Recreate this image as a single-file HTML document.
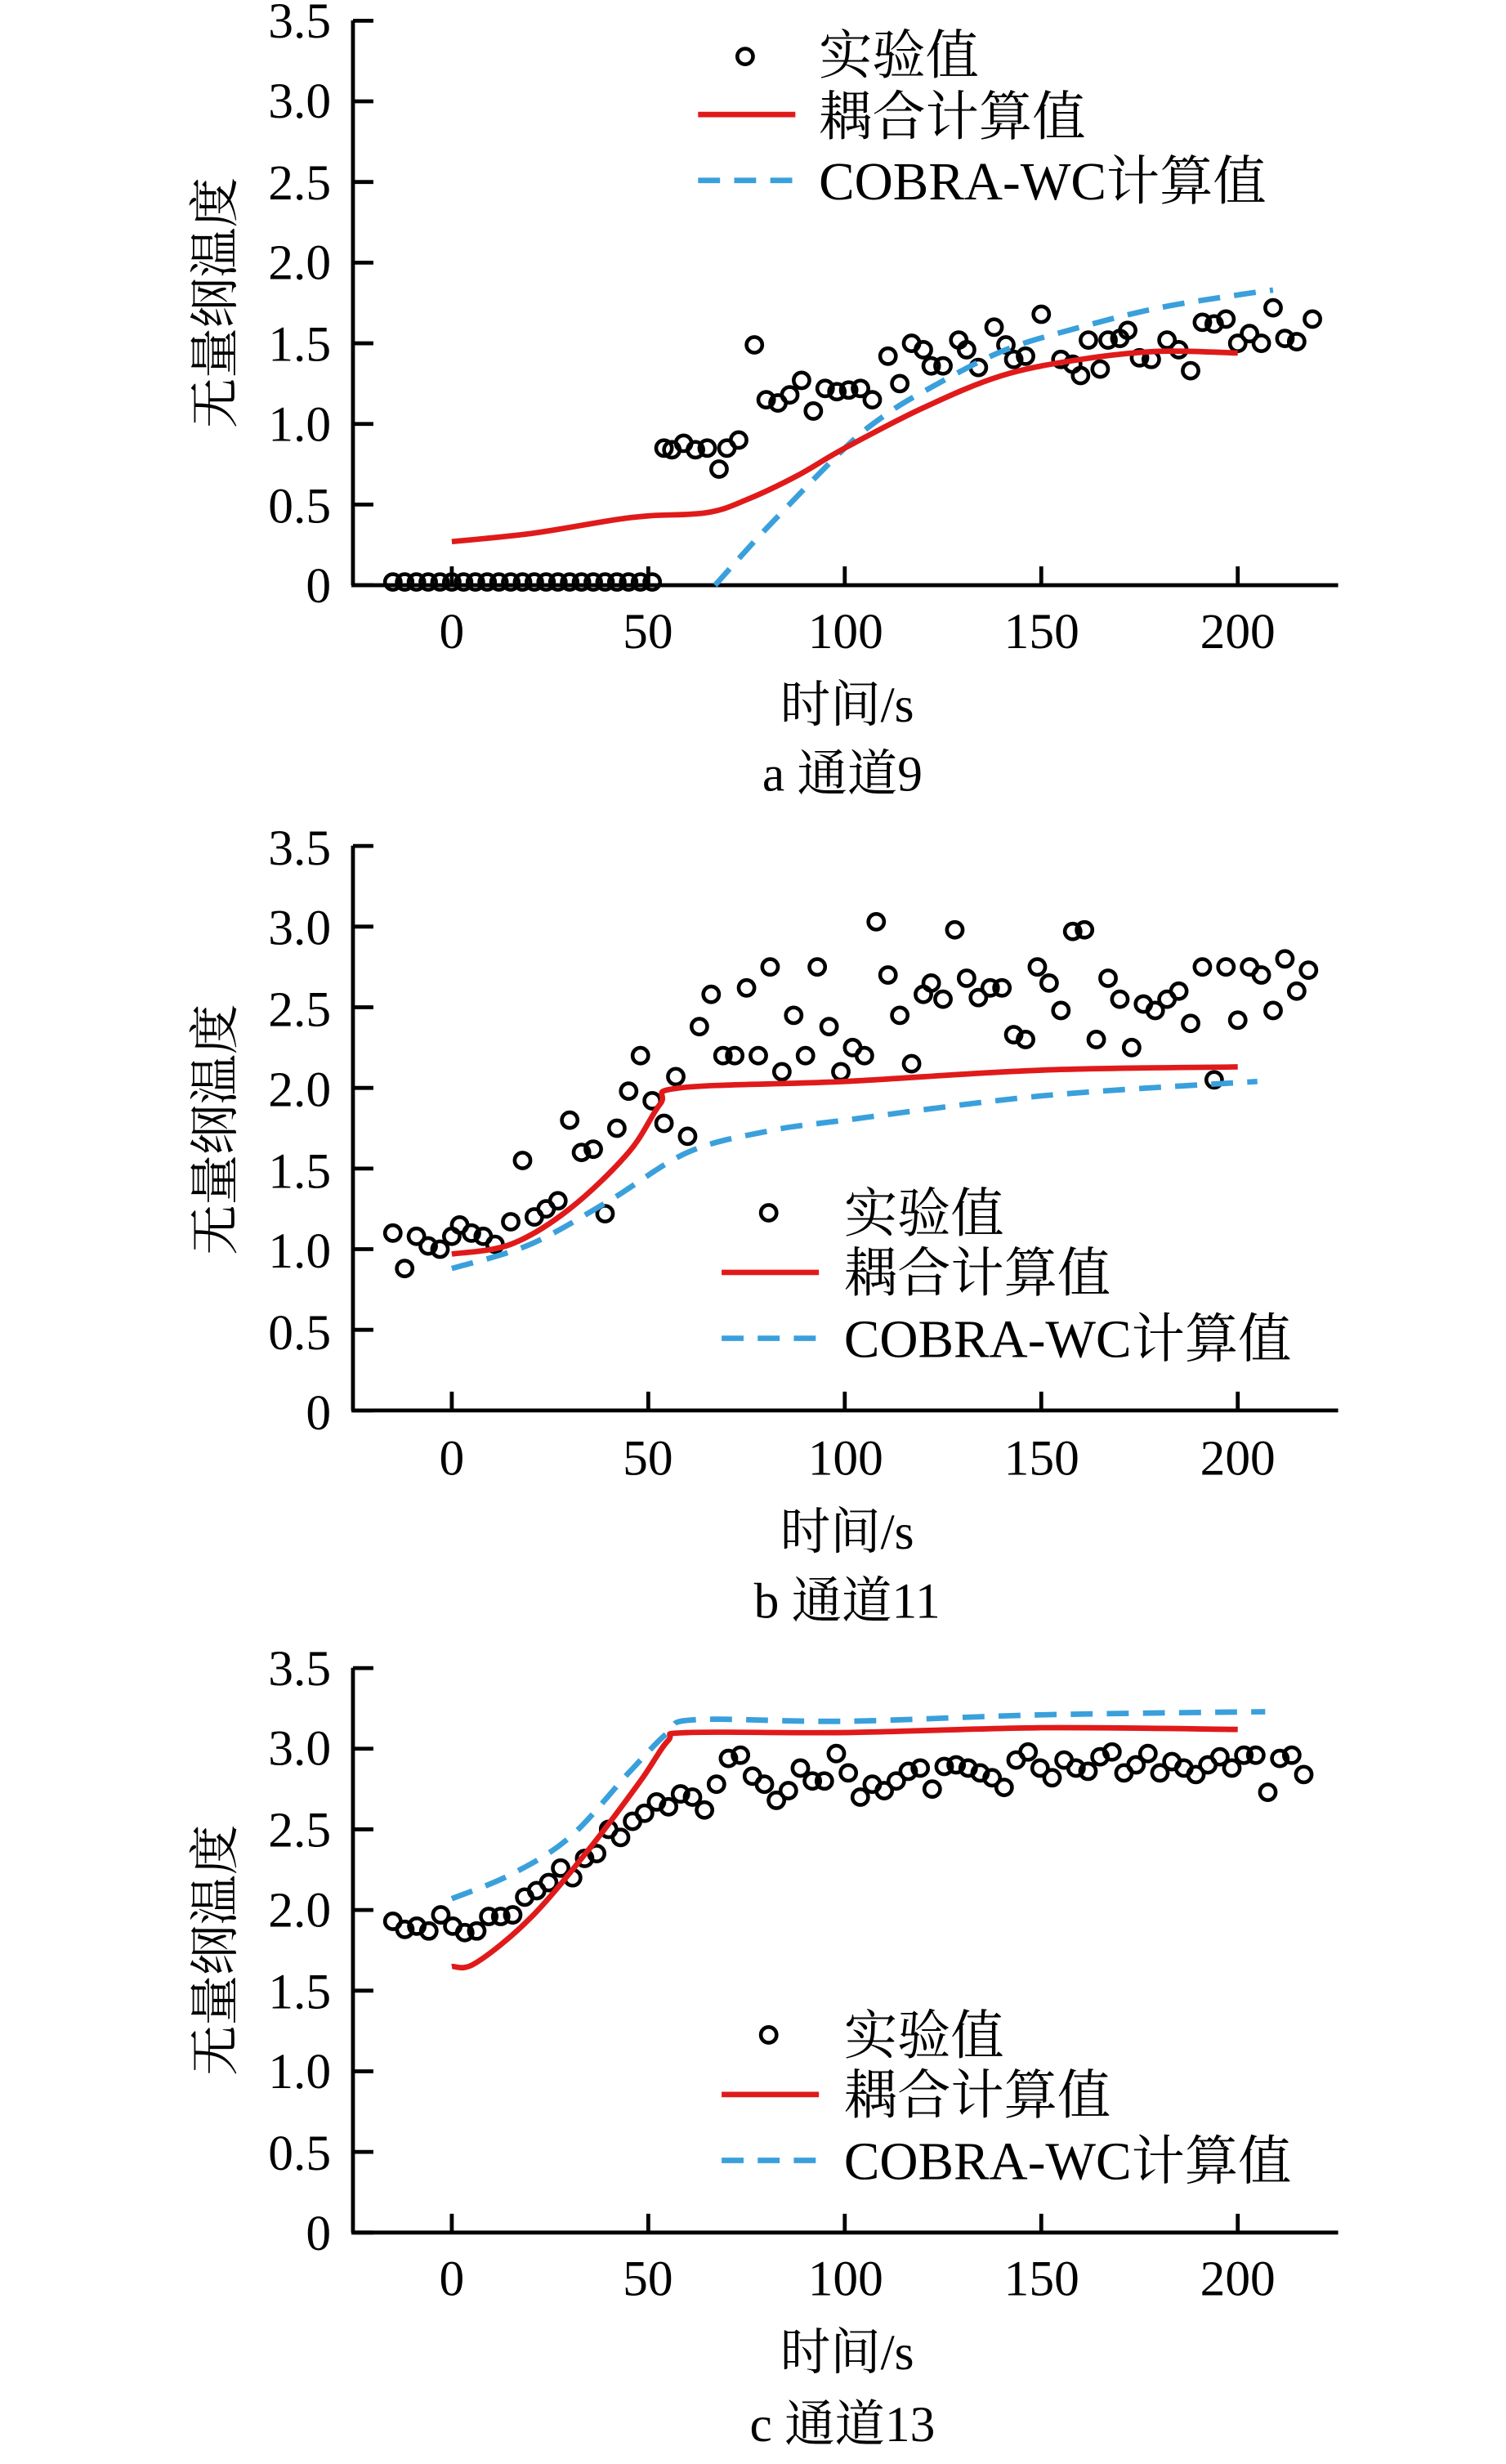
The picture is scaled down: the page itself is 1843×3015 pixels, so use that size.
<!DOCTYPE html>
<html><head><meta charset="utf-8">
<style>
html,body{margin:0;padding:0;background:#fff;}
svg{display:block;}
text{font-family:"Liberation Serif","Noto Serif CJK SC","Noto Sans CJK SC",serif;fill:#000;}
</style></head>
<body>
<svg id="s" width="1843" height="3015" viewBox="0 0 960 1570.5" preserveAspectRatio="none" xmlns="http://www.w3.org/2000/svg">
<g id="g"></g>
<!-- Panel a texts -->
<g font-size="32" text-anchor="end">
<text x="211" y="24">3.5</text><text x="211" y="75">3.0</text><text x="211" y="127">2.5</text><text x="211" y="178">2.0</text><text x="211" y="230">1.5</text><text x="211" y="281">1.0</text><text x="211" y="333">0.5</text><text x="211" y="384">0</text>
</g>
<g font-size="32" text-anchor="middle">
<text x="288" y="413">0</text><text x="413" y="413">50</text><text x="539" y="413">100</text><text x="664" y="413">150</text><text x="789" y="413">200</text>
<text x="540" y="460">时间/s</text>
<text x="537" y="504">a  通道9</text>
</g>
<text font-size="32" transform="translate(148,193) rotate(-90)" text-anchor="middle">无量纲温度</text>
<g font-size="34"><text x="522" y="47">实验值</text><text x="522" y="86">耦合计算值</text><text x="522" y="127">COBRA-WC计算值</text></g>

<!-- Panel b texts -->
<g font-size="32" text-anchor="end">
<text x="211" y="551">3.5</text><text x="211" y="602">3.0</text><text x="211" y="654">2.5</text><text x="211" y="705">2.0</text><text x="211" y="757">1.5</text><text x="211" y="808">1.0</text><text x="211" y="860">0.5</text><text x="211" y="911">0</text>
</g>
<g font-size="32" text-anchor="middle">
<text x="288" y="940">0</text><text x="413" y="940">50</text><text x="539" y="940">100</text><text x="664" y="940">150</text><text x="789" y="940">200</text>
<text x="540" y="987">时间/s</text>
<text x="540" y="1031">b  通道11</text>
</g>
<text font-size="32" transform="translate(148,720) rotate(-90)" text-anchor="middle">无量纲温度</text>
<g font-size="34"><text x="538" y="785">实验值</text><text x="538" y="823">耦合计算值</text><text x="538" y="865">COBRA-WC计算值</text></g>

<!-- Panel c texts -->
<g font-size="32" text-anchor="end">
<text x="211" y="1074">3.5</text><text x="211" y="1125">3.0</text><text x="211" y="1177">2.5</text><text x="211" y="1228">2.0</text><text x="211" y="1280">1.5</text><text x="211" y="1331">1.0</text><text x="211" y="1383">0.5</text><text x="211" y="1434">0</text>
</g>
<g font-size="32" text-anchor="middle">
<text x="288" y="1463">0</text><text x="413" y="1463">50</text><text x="539" y="1463">100</text><text x="664" y="1463">150</text><text x="789" y="1463">200</text>
<text x="540" y="1510">时间/s</text>
<text x="537" y="1556">c  通道13</text>
</g>
<text font-size="32" transform="translate(148,1243) rotate(-90)" text-anchor="middle">无量纲温度</text>
<g font-size="34"><text x="538" y="1309">实验值</text><text x="538" y="1347">耦合计算值</text><text x="538" y="1389">COBRA-WC计算值</text></g>
</svg>
<script>
var NS="http://www.w3.org/2000/svg",G=document.getElementById("g");
function el(t,a){var e=document.createElementNS(NS,t);for(var k in a)e.setAttribute(k,a[k]);G.appendChild(e);return e;}
function panel(y0,red,blue,pts,leg){
  var ytop=y0-360;
  var X=function(t){return 288+t*2.505;},Y=function(v){return y0-v*102.8;};
  el("line",{x1:225,y1:ytop,x2:225,y2:y0,stroke:"#000","stroke-width":2.5});
  el("line",{x1:224,y1:y0,x2:853,y2:y0,stroke:"#000","stroke-width":2.5});
  for(var i=0;i<=7;i++){var y=Y(i*0.5);el("line",{x1:225,y1:y,x2:238,y2:y,stroke:"#000","stroke-width":2.5});}
  for(var i=0;i<=4;i++){var x=X(i*50);el("line",{x1:x,y1:y0,x2:x,y2:y0-12,stroke:"#000","stroke-width":2.5});}
  function path(d,c,dash){
    var P=d.map(function(p){return [X(p[0]),Y(p[1])];});
    var s="M"+P[0][0].toFixed(1)+" "+P[0][1].toFixed(1);
    for(var i=0;i<P.length-1;i++){
      var p0=P[Math.max(i-1,0)],p1=P[i],p2=P[i+1],p3=P[Math.min(i+2,P.length-1)];
      var c1=[p1[0]+(p2[0]-p0[0])/6,p1[1]+(p2[1]-p0[1])/6],c2=[p2[0]-(p3[0]-p1[0])/6,p2[1]-(p3[1]-p1[1])/6];
      s+="C"+c1[0].toFixed(1)+" "+c1[1].toFixed(1)+" "+c2[0].toFixed(1)+" "+c2[1].toFixed(1)+" "+p2[0].toFixed(1)+" "+p2[1].toFixed(1);
    }
    var a={d:s,fill:"none",stroke:c,"stroke-width":3.5,"stroke-linejoin":"round"};if(dash)a["stroke-dasharray"]="14 9";el("path",a);}
  pts.forEach(function(p){el("circle",{cx:X(p[0]),cy:Y(p[1]),r:5,fill:"none",stroke:"#000","stroke-width":2.4});});
  path(blue,"#3aa0dc",true);path(red,"#e01a1a",false);
  el("circle",{cx:leg[0],cy:leg[1],r:5,fill:"none",stroke:"#000","stroke-width":2.4});
  el("line",{x1:leg[2],y1:leg[3],x2:leg[2]+62,y2:leg[3],stroke:"#e01a1a","stroke-width":3.5});
  el("line",{x1:leg[2],y1:leg[4],x2:leg[2]+62,y2:leg[4],stroke:"#3aa0dc","stroke-width":3.5,"stroke-dasharray":"14 9"});
}
// panel a
var pa=[];for(var t=-15;t<=52;t+=3)pa.push([t,0.02]);
pa=pa.concat([[54,0.85],[56,0.84],[59,0.88],[62,0.84],[65,0.85],[68,0.72],[70,0.85],[73,0.9],[77,1.49],[80,1.15],[83,1.13],[86,1.18],[89,1.27],[92,1.08],[95,1.22],[98,1.2],[101,1.21],[104,1.22],[107,1.15],[111,1.42],[114,1.25],[117,1.5],[120,1.46],[122,1.36],[125,1.36],[129,1.52],[131,1.46],[134,1.35],[138,1.6],[141,1.49],[143,1.4],[146,1.42],[150,1.68],[155,1.4],[158,1.37],[160,1.3],[162,1.52],[165,1.34],[167,1.52],[170,1.53],[172,1.58],[175,1.41],[178,1.4],[182,1.52],[185,1.46],[188,1.33],[191,1.63],[194,1.62],[197,1.65],[200,1.5],[203,1.56],[206,1.5],[209,1.72],[212,1.53],[215,1.51],[219,1.65]]);
panel(373,[[0,0.27],[20,0.32],[40,0.4],[50,0.43],[65,0.45],[75,0.53],[88,0.68],[100,0.85],[120,1.1],[140,1.3],[160,1.4],[180,1.45],[200,1.44]],
 [[67,0],[80,0.35],[100,0.85],[110,1.05],[120,1.2],[140,1.45],[160,1.6],[180,1.72],[200,1.8],[209,1.83]],pa,[475,36,445,73,115]);
// panel b
var pb=[[-15,1.1],[-12,0.88],[-9,1.08],[-6,1.02],[-3,1.0],[0,1.08],[2,1.15],[5,1.1],[8,1.08],[11,1.03],[15,1.17],[18,1.55],[21,1.2],[24,1.25],[27,1.3],[30,1.8],[33,1.6],[36,1.62],[39,1.22],[42,1.75],[45,1.98],[48,2.2],[51,1.92],[54,1.78],[57,2.07],[60,1.7],[63,2.38],[66,2.58],[69,2.2],[72,2.2],[75,2.62],[78,2.2],[81,2.75],[84,2.1],[87,2.45],[90,2.2],[93,2.75],[96,2.38],[99,2.1],[102,2.25],[105,2.2],[108,3.03],[111,2.7],[114,2.45],[117,2.15],[120,2.58],[122,2.65],[125,2.55],[128,2.98],[131,2.68],[134,2.56],[137,2.62],[140,2.62],[143,2.33],[146,2.3],[149,2.75],[152,2.65],[155,2.48],[158,2.97],[161,2.98],[164,2.3],[167,2.68],[170,2.55],[173,2.25],[176,2.52],[179,2.48],[182,2.55],[185,2.6],[188,2.4],[191,2.75],[194,2.05],[197,2.75],[200,2.42],[203,2.75],[206,2.7],[209,2.48],[212,2.8],[215,2.6],[218,2.73]];
panel(899,[[0,0.97],[15,1.03],[30,1.25],[45,1.6],[53,1.9],[58,2.0],[100,2.04],[150,2.11],[200,2.13]],
 [[0,0.88],[20,1.03],[40,1.3],[60,1.6],[80,1.73],[100,1.8],[150,1.95],[205,2.04]],pb,[490,773,460,811,853]);
// panel c
var vc=[1.93,1.88,1.9,1.87,1.97,1.9,1.86,1.87,1.96,1.96,1.97,2.08,2.12,2.17,2.26,2.2,2.32,2.35,2.5,2.45,2.55,2.6,2.67,2.64,2.72,2.7,2.62,2.78,2.94,2.96,2.83,2.78,2.68,2.74,2.88,2.8,2.8,2.97,2.85,2.7,2.78,2.74,2.8,2.86,2.88,2.75,2.89,2.9,2.88,2.85,2.82,2.76,2.93,2.98,2.88,2.82,2.93,2.88,2.86,2.95,2.98,2.85,2.9,2.97,2.85,2.92,2.88,2.84,2.9,2.95,2.88,2.96,2.96,2.73,2.94,2.96,2.84];
var pc=[];for(var i=0;i<vc.length;i++)pc.push([-15+i*3.05,vc[i]]);
panel(1423,[[0,1.65],[6,1.67],[20,1.95],[35,2.38],[48,2.8],[55,3.05],[60,3.1],[100,3.1],[150,3.13],[200,3.12]],
 [[0,2.07],[15,2.22],[30,2.45],[45,2.85],[55,3.1],[62,3.18],[100,3.17],[150,3.21],[207,3.23]],pc,[490,1297,460,1335,1377]);
</script>
</body></html>
